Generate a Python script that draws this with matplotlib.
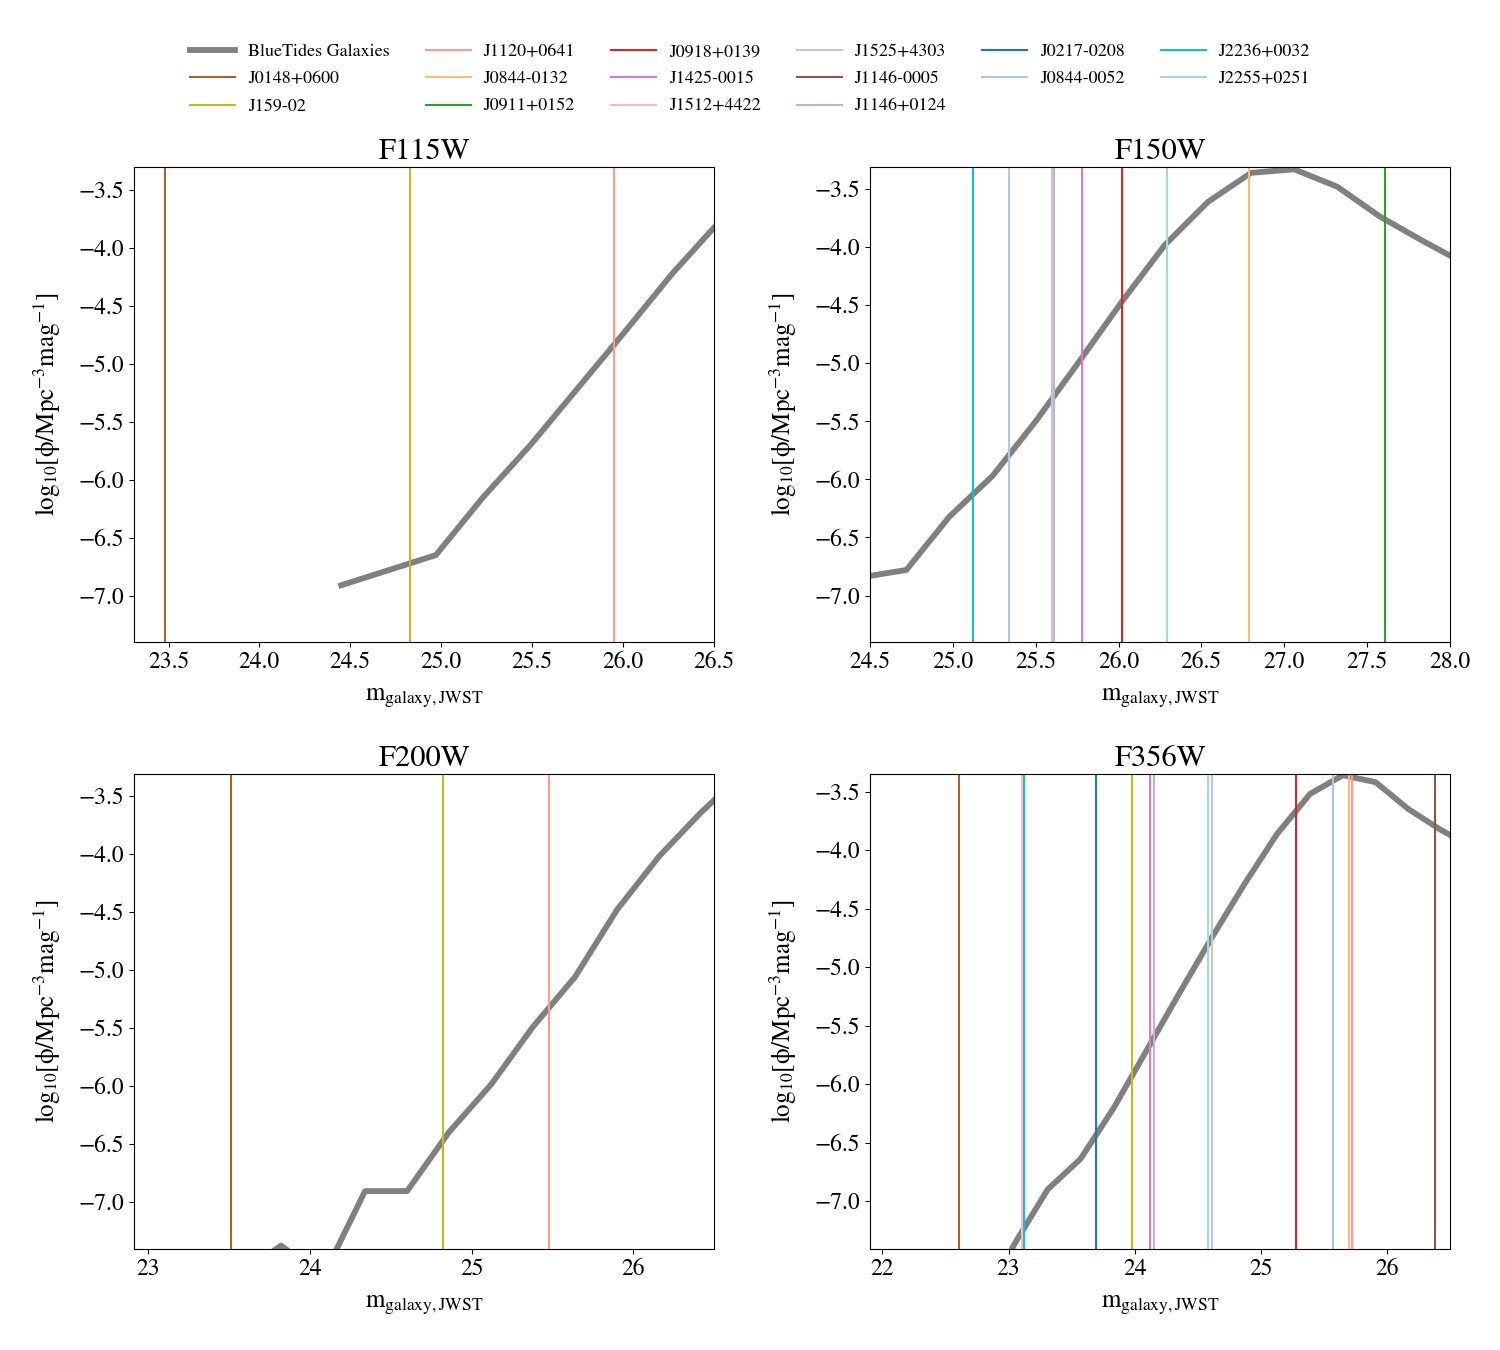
import numpy as np
import matplotlib
matplotlib.use('Agg')
import matplotlib.pyplot as plt
from matplotlib.lines import Line2D
from matplotlib.ticker import MultipleLocator

plt.rcParams['font.family'] = 'STIXGeneral'
plt.rcParams['mathtext.fontset'] = 'stix'

# quasars, in legend order
qso_names = ['J0148+0600', 'J159-02', 'J1120+0641', 'J0844-0132', 'J0911+0152',
             'J0918+0139', 'J1425-0015', 'J1512+4422', 'J1525+4303', 'J1146-0005',
             'J1146+0124', 'J0217-0208', 'J0844-0052', 'J2236+0032', 'J2255+0251']
qso_colors = ['#a3652a', '#bcbd22', '#ff9896', '#ffbb78', '#2ca02c',
              '#d62728', '#e377c2', '#f7b6d2', '#c7c7c7', '#8c564b',
              '#c5b0d5', '#1f77b4', '#aec7e8', '#17becf', '#9edae5']

nan = np.nan
# quasar host magnitudes per filter (nan = not shown)
qso_f115w = [23.48, 24.83, 25.95, nan, nan, nan, nan, nan, nan, nan, nan, nan, nan, nan, nan]
qso_f150w = [nan, nan, nan, 26.79, 27.61, 26.02, 25.78, nan, 25.60, nan, 25.61, nan, 25.34, 25.12, 26.29]
qso_f200w = [23.51, 24.82, 25.48, nan, nan, nan, nan, nan, nan, nan, nan, nan, nan, nan, nan]
qso_f356w = [22.61, 23.98, 25.72, 25.70, nan, 25.28, 24.12, 23.11, 24.61, 26.38, 24.15, 23.69, 25.57, 23.12, 24.58]

# BlueTides galaxy luminosity functions
bt_mag_f115w = [24.45, 24.71, 24.97, 25.23, 25.49, 25.75, 26.01, 26.27, 26.53]
bt_phi_f115w = [-6.91, -6.78, -6.65, -6.15, -5.70, -5.21, -4.72, -4.22, -3.77]

bt_mag_f150w = [24.46, 24.72, 24.98, 25.24, 25.50, 25.76, 26.02, 26.28, 26.54, 26.80,
                27.06, 27.32, 27.58, 27.84, 28.10]
bt_phi_f150w = [-6.84, -6.78, -6.32, -5.97, -5.50, -4.99, -4.47, -3.98, -3.61, -3.36,
                -3.33, -3.48, -3.74, -3.95, -4.15]

bt_mag_f200w = [23.56, 23.82, 24.08, 24.34, 24.60, 24.86, 25.12, 25.38, 25.64, 25.90,
                26.16, 26.42, 26.68]
bt_phi_f200w = [-7.64, -7.38, -7.65, -6.91, -6.91, -6.40, -5.99, -5.49, -5.06, -4.48,
                -4.02, -3.64, -3.30]

bt_mag_f356w = [22.79, 23.05, 23.31, 23.57, 23.83, 24.09, 24.35, 24.61, 24.87, 25.13,
                25.39, 25.65, 25.91, 26.17, 26.43, 26.69]
bt_phi_f356w = [-7.90, -7.36, -6.90, -6.64, -6.21, -5.72, -5.23, -4.75, -4.29, -3.86,
                -3.52, -3.36, -3.42, -3.65, -3.83, -3.98]

filters = ['F115W', 'F150W', 'F200W', 'F356W']
bt_mags = [bt_mag_f115w, bt_mag_f150w, bt_mag_f200w, bt_mag_f356w]
bt_phis = [bt_phi_f115w, bt_phi_f150w, bt_phi_f200w, bt_phi_f356w]
qso_mags = [qso_f115w, qso_f150w, qso_f200w, qso_f356w]
xlims = [(23.31, 26.5), (24.5, 28.0), (22.91, 26.5), (21.9, 26.5)]
ylims = [(-7.40, -3.30), (-7.40, -3.31), (-7.41, -3.31), (-7.41, -3.35)]
xsteps = [0.5, 0.5, 1.0, 1.0]

################################################################################

fig, axes = plt.subplots(2, 2, figsize=(15, 13.5), dpi=100)
fig.subplots_adjust(left=0.0893, right=0.9667, top=0.8763, bottom=0.0748,
                    wspace=0.2685, hspace=0.278)

for ind, ax in enumerate(axes.ravel()):
    ax.plot(bt_mags[ind], bt_phis[ind], color='gray', lw=4.2)
    for name, col, mag in zip(qso_names, qso_colors, qso_mags[ind]):
        if not np.isnan(mag):
            ax.axvline(mag, color=col, lw=1.5)
    ax.set_xlim(xlims[ind])
    ax.set_ylim(ylims[ind])
    ax.xaxis.set_major_locator(MultipleLocator(xsteps[ind]))
    ax.yaxis.set_major_locator(MultipleLocator(0.5))
    ax.tick_params(labelsize=17)
    ax.set_title(filters[ind], fontsize=22)
    ax.set_xlabel(r'm$_{\rm galaxy,JWST}$', fontsize=18, labelpad=9)
    ax.set_ylabel(r'log$_{10}$[ϕ/Mpc$^{-3}$mag$^{-1}$]', fontsize=18, labelpad=11)

handles = [Line2D([], [], color='gray', lw=4.2)]
handles += [Line2D([], [], color=c, lw=1.5) for c in qso_colors]
labels = ['BlueTides Galaxies'] + qso_names
fig.legend(handles, labels, loc='upper center', bbox_to_anchor=(0.5, 0.98),
           ncol=6, frameon=False, fontsize=13, handlelength=2.5, handletextpad=0.7,
           labelspacing=0.6)

plt.savefig('out.png')
